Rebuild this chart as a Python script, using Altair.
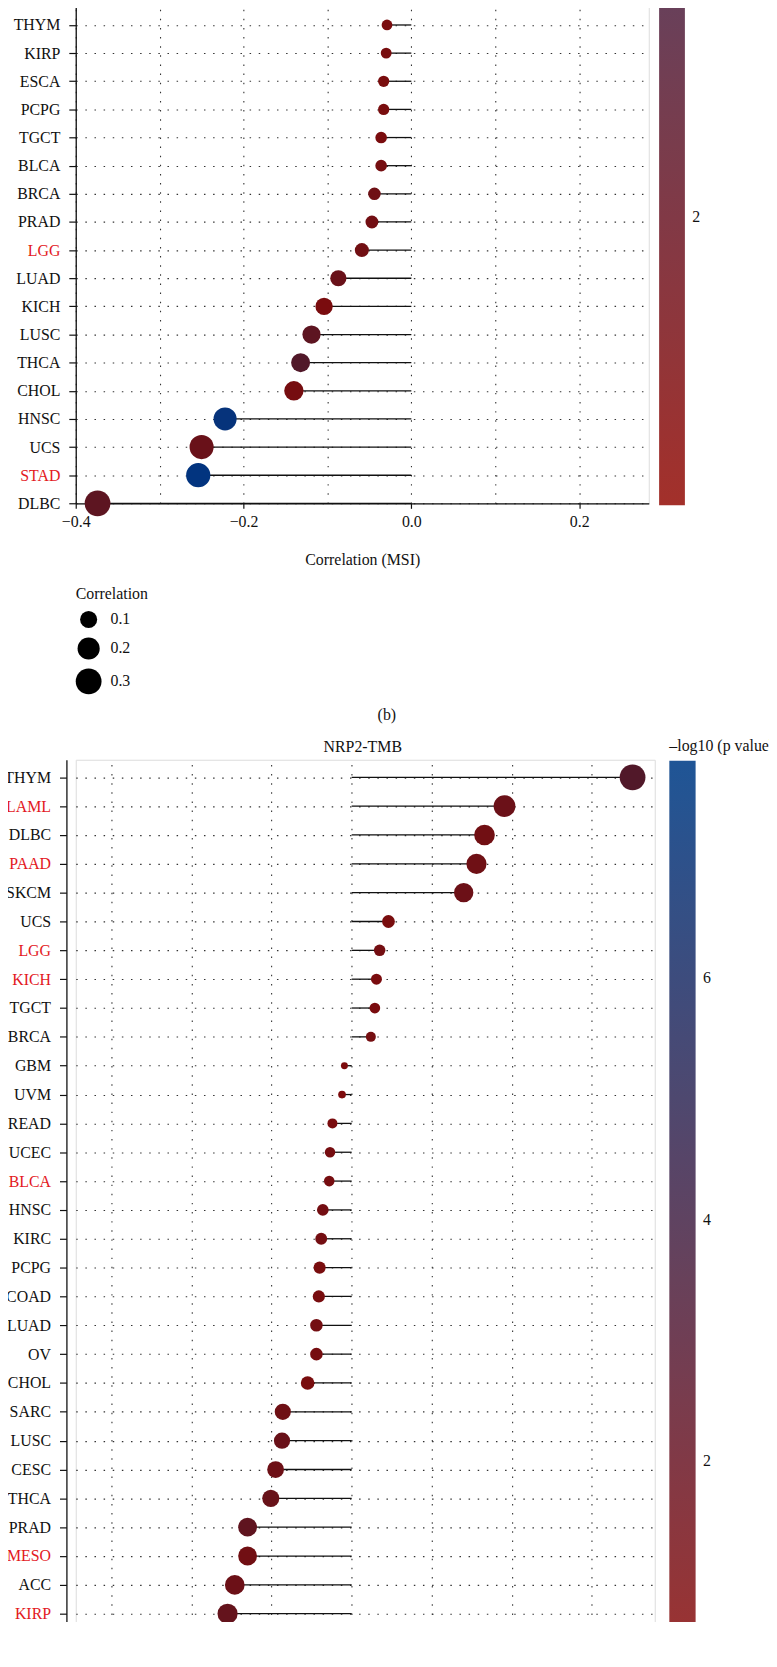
import json
import altair as alt
import pandas as pd

FONT = "Liberation Serif"
INK = "#111111"
RED_LABEL = "#e3191e"

# ---------------- upper panel (lower part visible): correlation with MSI ----------------
msi_cancers = ["KIRC", "THYM", "KIRP", "ESCA", "PCPG", "TGCT", "BLCA", "BRCA", "PRAD", "LGG",
               "LUAD", "KICH", "LUSC", "THCA", "CHOL", "HNSC", "UCS", "STAD", "DLBC"]
msi_corr = [-0.019, -0.029, -0.030, -0.033, -0.033, -0.036, -0.036, -0.044, -0.047, -0.059,
            -0.087, -0.104, -0.119, -0.132, -0.140, -0.222, -0.250, -0.254, -0.374]
msi_logp = [0.4, 0.3, 0.5, 0.4, 0.4, 0.3, 0.7, 1.2, 0.9, 1.0,
            1.6, 0.3, 2.6, 3.5, 0.6, 7.6, 1.6, 7.8, 2.6]
msi_red = ["KIRC", "LGG", "STAD"]
msi_x_ticks = [-0.4, -0.3, -0.2, -0.1, 0.0, 0.1, 0.2]

# ---------------- lower panel: NRP2-TMB ----------------
tmb_cancers = ["THYM", "LAML", "DLBC", "PAAD", "SKCM", "UCS", "LGG", "KICH", "TGCT", "BRCA",
               "GBM", "UVM", "READ", "UCEC", "BLCA", "HNSC", "KIRC", "PCPG", "COAD", "LUAD",
               "OV", "CHOL", "SARC", "LUSC", "CESC", "THCA", "PRAD", "MESO", "ACC", "KIRP", "ESCA"]
tmb_corr = [0.351, 0.191, 0.166, 0.156, 0.140, 0.046, 0.035, 0.031, 0.029, 0.024,
            -0.009, -0.012, -0.024, -0.027, -0.028, -0.036, -0.038, -0.040, -0.041, -0.044,
            -0.044, -0.055, -0.086, -0.087, -0.095, -0.101, -0.130, -0.130, -0.146, -0.155, -0.222]
tmb_logp = [3.5, 1.5, 1.0, 1.2, 1.4, 0.4, 0.8, 0.3, 0.3, 0.7,
            0.1, 0.1, 0.3, 0.6, 0.6, 0.8, 0.8, 0.4, 0.5, 0.8,
            0.6, 0.4, 1.2, 1.6, 1.3, 1.7, 2.4, 1.0, 1.4, 2.0, 4.6]
tmb_red = ["LAML", "PAAD", "LGG", "KICH", "BLCA", "MESO", "KIRP"]
tmb_x_ticks = [-0.3, -0.2, -0.1, 0.0, 0.1, 0.2, 0.3]

size_legend_values = [0.1, 0.2, 0.3]
colorbar_ticks = [2, 4, 6]
msi_bar_domain = [0, 7.85]
tmb_bar_domain = [0, 7.8]
dot_color_stops = [0, 3.9, 7.8]
dot_colors = ["#7e0b0b", "#4c1a2c", "#02347f"]
bar_colors = ["#a3302a", "#1f5596"]

GRID_DASH = [1.5, 7.7]


def panel(cancers, corr, logp, red, x_ticks, x_domain, width, height,
          y_pad, y_align, y_offset, x_title, x_title_pad, bar_domain, color_legend, size_legend):
    df = pd.DataFrame({"cancer": cancers, "corr": corr, "logp": logp})
    df["abscorr"] = df["corr"].abs()
    base = alt.Chart(df)

    y_axis = alt.Axis(
        labelFont=FONT, labelFontSize=16, labelLimit=200, labelPadding=9,
        labelColor={"condition": {"test": f"indexof({json.dumps(red)}, datum.value) >= 0",
                                  "value": RED_LABEL}, "value": INK},
        tickSize=7, tickColor=INK, tickWidth=1.2,
        domainColor=INK, domainWidth=1.3, offset=y_offset,
        grid=True, gridDash=GRID_DASH, gridColor="#333333", gridWidth=1.1,
    )
    y = alt.Y("cancer:N", sort=cancers, title=None,
              scale=alt.Scale(type="point", padding=y_pad, align=y_align, round=False),
              axis=y_axis)

    x_axis_kw = dict(
        values=x_ticks,
        labelExpr="abs(round(datum.value*10)) % 2 == 1 ? '' : replace(format(datum.value, '.1f'), '-', '\u2013')",
        labelFont=FONT, labelFontSize=16, labelColor=INK, labelFlush=False, labelPadding=5.5,
        tickSize=5, tickColor=INK, tickWidth=1.2,
        tickOpacity={"condition": {"test": "abs(round(datum.value*10)) % 2 == 1", "value": 0}, "value": 1},
        domainColor=INK, domainWidth=1.3,
        grid=True, gridDash=GRID_DASH, gridColor="#333333", gridWidth=1.1,
        titleFont=FONT, titleFontSize=16, titleFontWeight="normal", titleColor=INK,
        titlePadding=x_title_pad,
    )
    x = alt.X("corr:Q", title=x_title,
              scale=alt.Scale(domain=x_domain, nice=False, zero=False),
              axis=alt.Axis(**x_axis_kw))

    stems = base.mark_rule(color=INK, strokeWidth=1.3).encode(x=x, x2=alt.datum(0), y=y)

    size_kw = dict(scale=alt.Scale(type="pow", exponent=0.75, domain=[0, 0.3],
                                   range=[0, 676], clamp=True))
    if size_legend is None:
        size_enc = alt.Size("abscorr:Q", legend=None, **size_kw)
    else:
        size_enc = alt.Size("abscorr:Q", title="Correlation", legend=size_legend, **size_kw)

    dots = base.mark_circle(opacity=1, strokeWidth=0).encode(
        x=x, y=y, size=size_enc,
        color=alt.Color("logp:Q", legend=None,
                        scale=alt.Scale(domain=dot_color_stops, range=dot_colors,
                                        interpolate="rgb")),
    )
    # invisible layer that only carries the colour bar
    bar = base.mark_circle(size=0, opacity=1).encode(
        x=x, y=y,
        color=alt.Color("logp:Q", title=color_legend.pop("title_text"),
                        scale=alt.Scale(domain=bar_domain, range=bar_colors,
                                        interpolate="rgb"),
                        legend=alt.Legend(**color_legend)),
    )
    return alt.layer(stems, dots, bar).resolve_scale(color="independent").properties(
        width=width, height=height)


legend_common = dict(
    type="gradient", direction="vertical", orient="none", values=colorbar_ticks, format="d",
    labelFont=FONT, labelFontSize=16, labelColor=INK, labelOffset=7.5,
    gradientStrokeWidth=0, gradientOpacity=1,
)

top_color_legend = dict(legend_common, title_text=None, legendX=588.2, legendY=-598.9,
                        gradientLength=1140, gradientThickness=26)

top_size_legend = alt.Legend(
    orient="none", legendX=0, legendY=622.9, values=size_legend_values, format=".1f",
    titleFont=FONT, titleFontSize=16, titleFontWeight="normal", titleColor=INK, titlePadding=8.3,
    labelFont=FONT, labelFontSize=16, labelColor=INK, labelOffset=9, rowPadding=8.7,
    symbolType="circle", symbolFillColor="black", symbolStrokeWidth=0, symbolOpacity=1,
)

bottom_color_legend = dict(legend_common, title_text="\u2013log10 (p value)",
                           legendX=598.5, legendY=-21.5,
                           gradientLength=950, gradientThickness=26.5,
                           titleFont=FONT, titleFontSize=16, titleFontWeight="normal",
                           titleColor=INK, titlePadding=6.4, titleLimit=300)

top = panel(msi_cancers, msi_corr, msi_logp, msi_red, msi_x_ticks, [-0.4, 0.283],
            577.8, 539.1, 0.5, 1, 0, "Correlation (MSI)", 21.7, msi_bar_domain,
            top_color_legend, top_size_legend
            ).properties(
    title=alt.TitleParams("(b)", orient="bottom", frame="group", anchor="middle",
                          baseline="middle", offset=20.4, dx=24.8,
                          font=FONT, fontSize=16, fontWeight="normal", color=INK))

bottom = panel(tmb_cancers, tmb_corr, tmb_logp, tmb_red, tmb_x_ticks, [-0.3447, 0.3787],
               583.8, 907.8, 0.608, 0.5, 9.4, None, 20, tmb_bar_domain,
               bottom_color_legend, None
               ).properties(
    title=alt.TitleParams("NRP2-TMB", orient="top", frame="group", anchor="middle",
                          baseline="middle", offset=-8, dx=-2.5, dy=16.8,
                          font=FONT, fontSize=16, fontWeight="normal", color=INK))

chart = alt.vconcat(top, bottom, spacing=257.6, bounds="flush").resolve_scale(
    color="independent", size="independent", x="independent", y="independent"
).resolve_legend(color="independent", size="independent").properties(
    padding={"top": -646.3, "left": -5.7, "right": -6, "bottom": -90}
).configure_view(strokeWidth=0).configure(font=FONT)

chart.save("out.html", embed_options={"renderer": "svg", "actions": False})
